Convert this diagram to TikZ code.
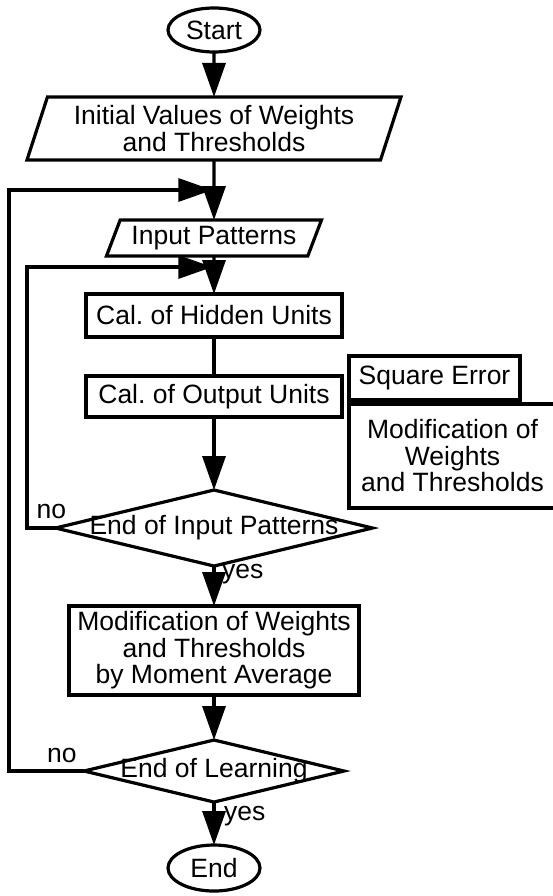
\documentclass[tikz,border=0pt]{standalone}
\usepackage{fontspec}
\setmainfont{Liberation Sans}
\usetikzlibrary{positioning}
\usetikzlibrary{shapes.geometric}
\usetikzlibrary{arrows.meta}

\tikzset{
  flowline/.style={line width=3.2pt},
  flow/.style={flowline, -{Triangle[length=34pt,width=23pt]}},
  terminal/.style={draw, flowline, ellipse, inner sep=0pt, outer sep=0pt, minimum width=92pt, minimum height=44pt},
  io/.style={draw, flowline, trapezium, trapezium stretches body, inner sep=0pt, outer sep=0pt, align=center},
  process/.style={draw, flowline, rectangle, inner sep=0pt, outer sep=0pt, align=center},
  decision/.style={draw, flowline, diamond, inner sep=0pt, outer sep=0pt},
  answer/.style={inner sep=0pt},
}

\begin{document}
\begin{tikzpicture}[x=1pt, y=1pt, font={\fontsize{26.5}{26.5}\selectfont\frenchspacing}]
  \useasboundingbox (0,0) rectangle (552,-896);

  % main column
  \node[terminal] (start) at (214,-30) {Start};
  \node[io, below=45pt of start, trapezium left angle=66, trapezium right angle=114,
        minimum width=374pt, minimum height=63pt] (init) {Initial Values of Weights\\and Thresholds};
  \node[io, below=60pt of init, trapezium left angle=60, trapezium right angle=120,
        minimum width=215pt, minimum height=36pt] (input) {Input Patterns};
  \node[process, below=38pt of input, minimum width=256pt, minimum height=43pt] (hidden) {Cal. of Hidden Units};
  \node[process, below=39pt of hidden, minimum width=256pt, minimum height=41pt] (output) {Cal. of Output Units};
  \node[decision, below=73pt of output, minimum width=317pt, minimum height=76pt] (endinput) {\makebox[0pt]{End of Input Patterns}};
  \node[process, below=40pt of endinput, minimum width=290pt, minimum height=89pt] (modavg) {Modification of Weights\\and Thresholds\\by Moment Average};
  \node[decision, below=45pt of modavg, minimum width=260pt, minimum height=62pt] (endlearn) {\makebox[0pt]{End of Learning}};
  \node[terminal, below=43pt of endlearn, minimum height=46pt] (stop) {End};

  % side boxes
  \node[process, right=7pt of output.north east, anchor=north west, yshift=20pt,
        minimum width=171pt, minimum height=44pt] (sqerr) {Square Error};
  \node[process, below=4pt of sqerr.south west, anchor=north west,
        minimum width=207pt, minimum height=104pt] (modify) {Modification of\\Weights\\and Thresholds};

  % branch labels
  \node[answer, anchor=base west] (no1) at ([xshift=-19pt,yshift=10pt]endinput.west) {no};
  \node[answer, anchor=base west] (yes1) at ([xshift=8pt,yshift=-12pt]endinput.south) {yes};
  \node[answer, anchor=base west] (no2) at ([xshift=-37pt,yshift=9pt]endlearn.west) {no};
  \node[answer, anchor=base west] (yes2) at ([xshift=10pt,yshift=-18pt]endlearn.south) {yes};

  % loop corners
  \coordinate (outer) at (9,-190);
  \coordinate (inner) at (27,-267);

  \draw[flow] (start) -- (init);
  \draw[flow] (init) -- (input);
  \draw[flow] (input) -- (hidden);
  \draw[flowline] (hidden) -- (output);
  \draw[flow] (output) -- (endinput);
  \draw[flow] (endinput) -- (modavg);
  \draw[flow] (modavg) -- (endlearn);
  \draw[flow] (endlearn) -- (stop);

  \draw[flow, shorten >=1.6pt] (endinput.west) -| (inner) -- (inner -| input.south);
  \draw[flow, shorten >=1.6pt] (endlearn.west) -| (outer) -- (outer -| init.south);
\end{tikzpicture}
\end{document}
